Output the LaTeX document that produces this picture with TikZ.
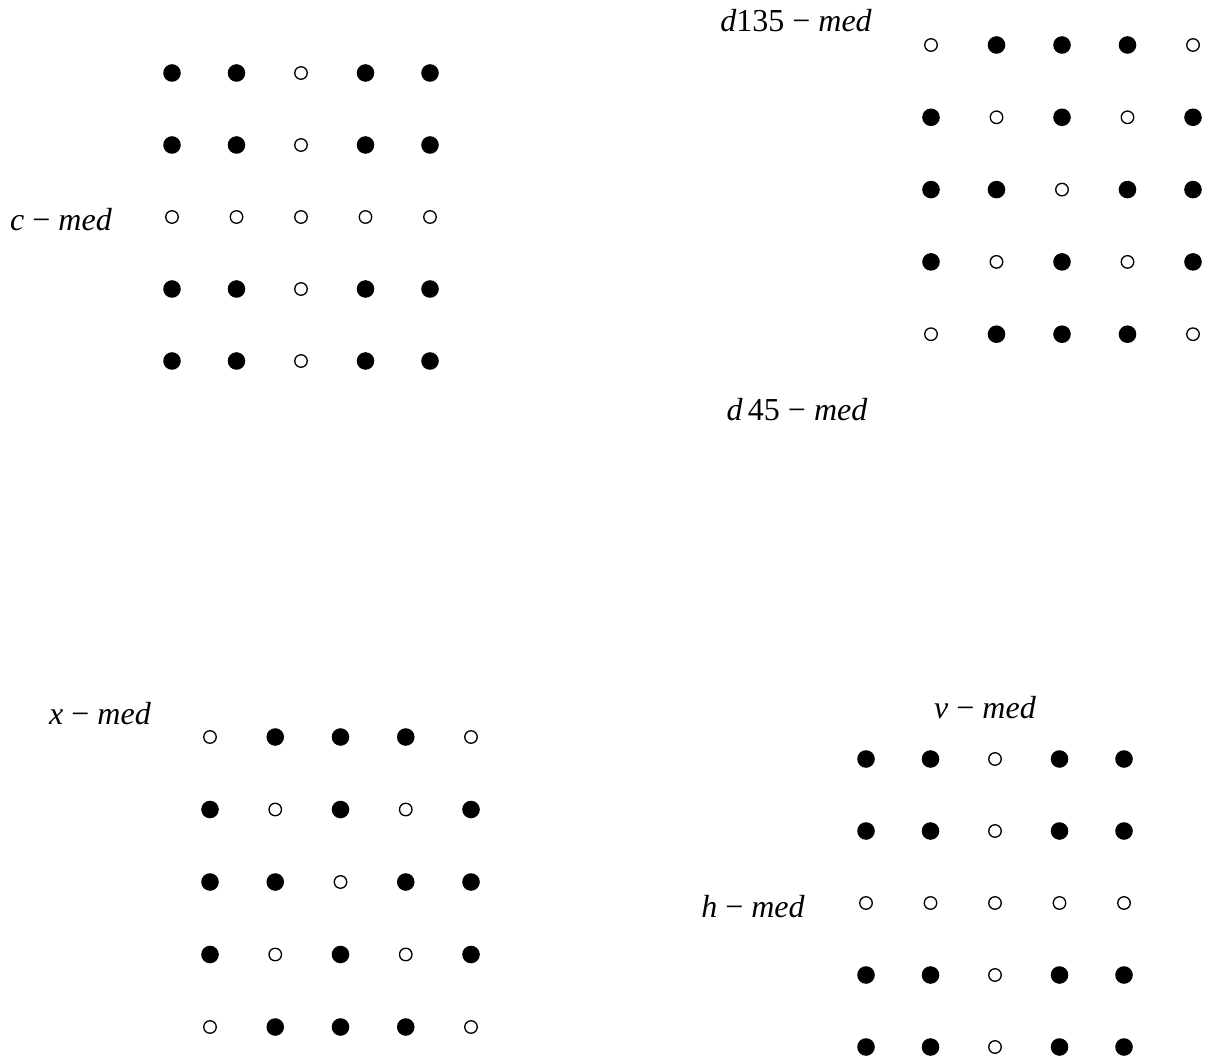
\documentclass[tikz,border=0pt]{standalone}
\usepackage{fontspec}
\setmainfont{Liberation Serif}
\usepackage{tikz}
\usetikzlibrary{positioning}

\begin{document}
\begin{tikzpicture}[x=0.75pt,y=-0.75pt,
  dot0/.style={circle,fill=black,inner sep=0pt,minimum size=13.2pt},
  dot1/.style={circle,draw=black,fill=white,line width=1pt,inner sep=0pt,minimum size=9.4pt},
  lbl/.style={font=\fontsize{24}{28}\selectfont\itshape,inner sep=0pt}]
  \useasboundingbox (0,0) rectangle (1208,1059);
  % c-med: open cross
  \foreach \r in {1,...,5} {
    \foreach \c in {1,...,5} {
      \pgfmathtruncatemacro{\op}{or(\r==3,\c==3)}
      \node[dot\op] (c\r\c) at ({172+64.5*(\c-1)},{73+72*(\r-1)}) {};
    }
  }
  % d-med: open diagonals
  \foreach \r in {1,...,5} {
    \foreach \c in {1,...,5} {
      \pgfmathtruncatemacro{\op}{or(\r==\c,\r+\c==6)}
      \node[dot\op] (d\r\c) at ({931+65.5*(\c-1)},{45+72.3*(\r-1)}) {};
    }
  }
  % x-med
  \foreach \r in {1,...,5} {
    \foreach \c in {1,...,5} {
      \pgfmathtruncatemacro{\op}{or(\r==\c,\r+\c==6)}
      \node[dot\op] (x\r\c) at ({210+65.25*(\c-1)},{737+72.5*(\r-1)}) {};
    }
  }
  % v-med / h-med
  \foreach \r in {1,...,5} {
    \foreach \c in {1,...,5} {
      \pgfmathtruncatemacro{\op}{or(\r==3,\c==3)}
      \node[dot\op] (v\r\c) at ({866+64.5*(\c-1)},{759+72*(\r-1)}) {};
    }
  }
  \node[lbl] (lc) at (61,220) {c \textup{−} med};
  \node[lbl] (ld135) at (796,21) {d\textup{135 −} med};
  \node[lbl] (ld45) at (797,410) {d\,\textup{45 −} med};
  \node[lbl] (lx) at (100,714) {x \textup{−} med};
  \node[lbl] (lv) at (985,708) {v \textup{−} med};
  \node[lbl] (lh) at (753,907) {h \textup{−} med};
\end{tikzpicture}
\end{document}
